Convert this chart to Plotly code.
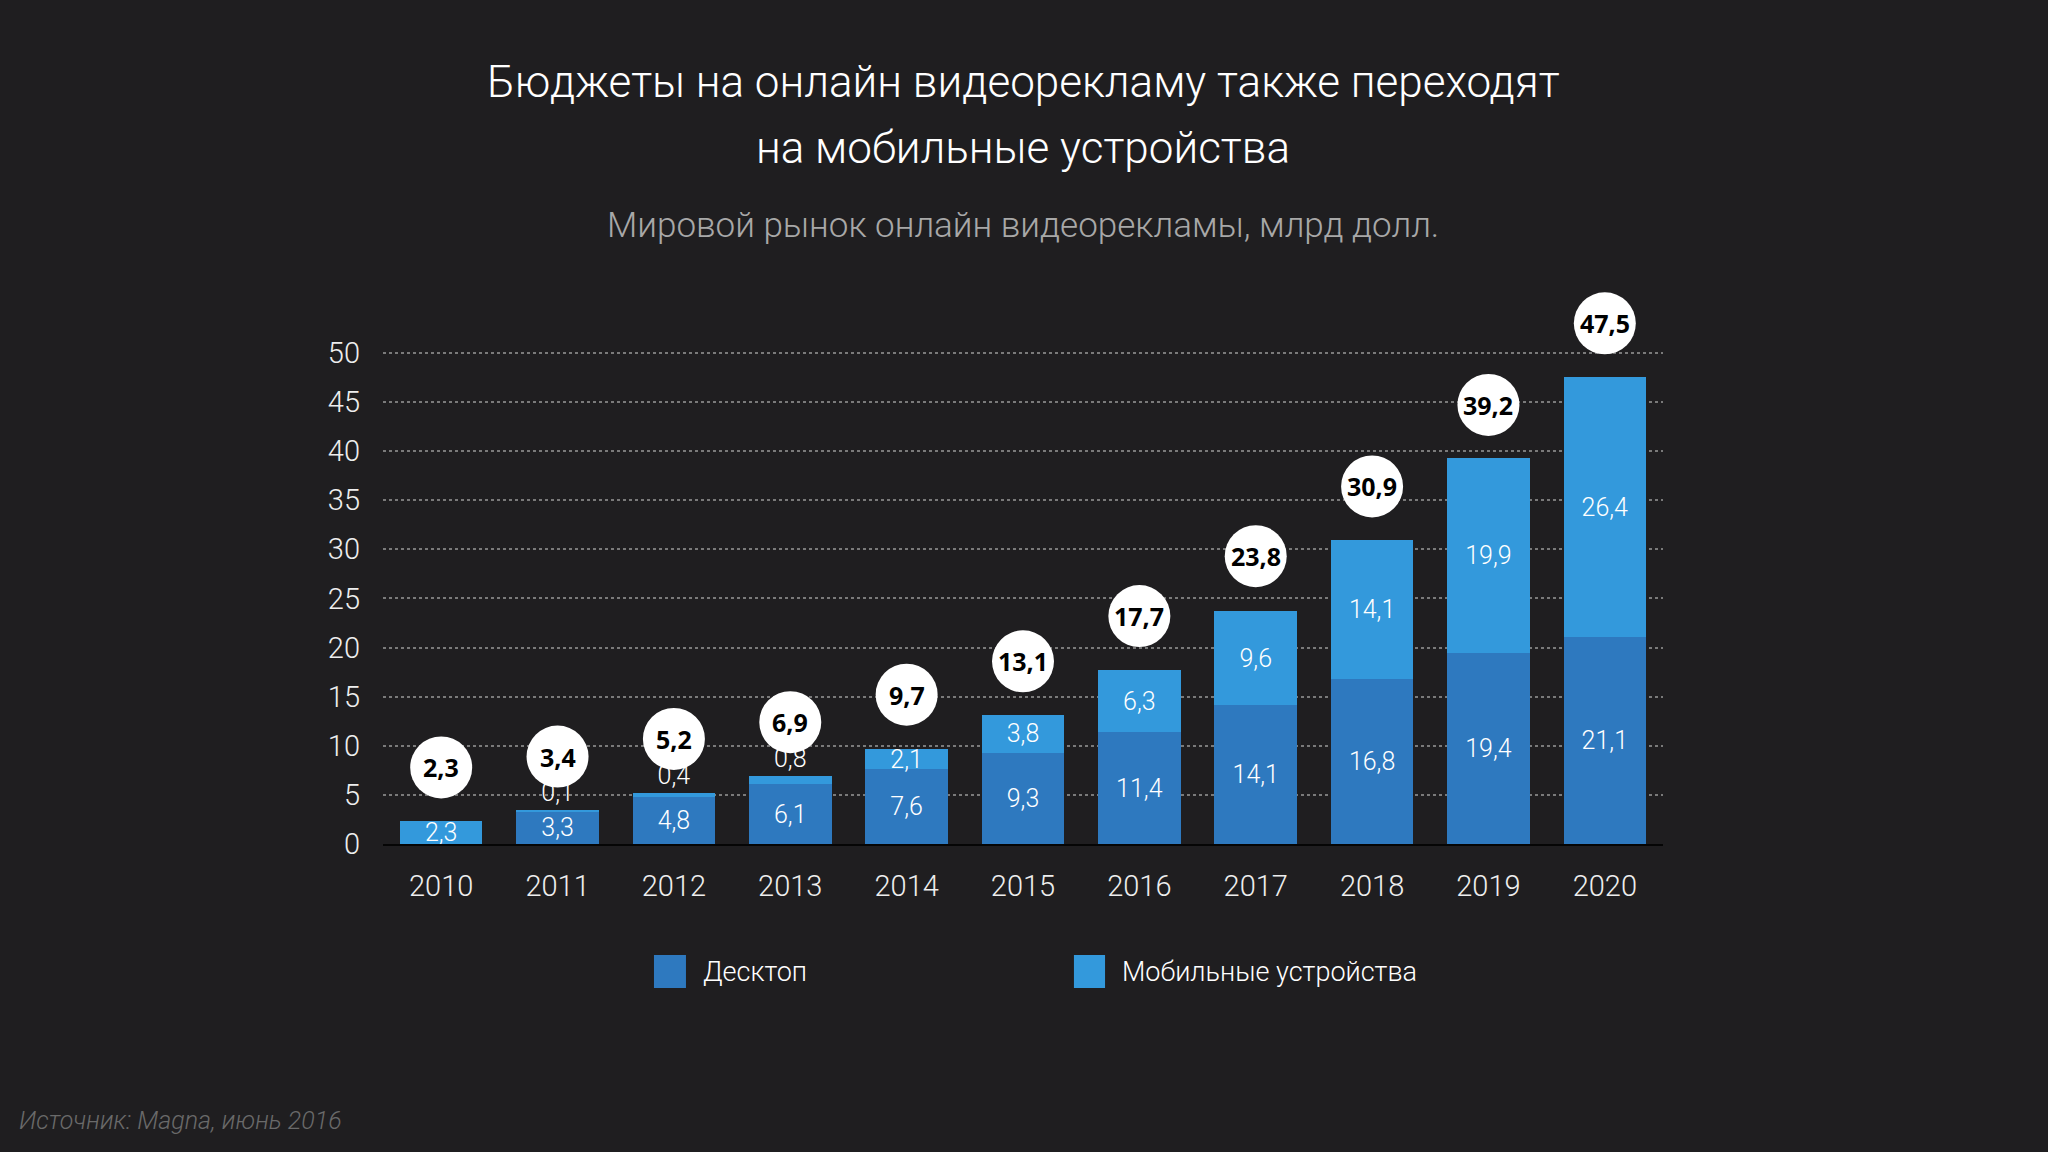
import plotly.graph_objects as go

years = ["2010", "2011", "2012", "2013", "2014", "2015", "2016", "2017", "2018", "2019", "2020"]
desktop = [2.3, 3.3, 4.8, 6.1, 7.6, 9.3, 11.4, 14.1, 16.8, 19.4, 21.1]
mobile = [0.0, 0.1, 0.4, 0.8, 2.1, 3.8, 6.3, 9.6, 14.1, 19.9, 26.4]
totals = [2.3, 3.4, 5.2, 6.9, 9.7, 13.1, 17.7, 23.8, 30.9, 39.2, 47.5]
y_ticks = [0, 5, 10, 15, 20, 25, 30, 35, 40, 45, 50]

title_lines = ["Бюджеты на онлайн видеорекламу также переходят", "на мобильные устройства"]
subtitle_text = "Мировой рынок онлайн видеорекламы, млрд долл."
source_text = "Источник: Magna, июнь 2016"
series_names = ["Десктоп", "Мобильные устройства"]

BG = "#1F1E20"
C_DESK = "#2E79BF"
C_MOB = "#3399DC"
FONT = "Roboto, Open Sans, sans-serif"


def fmt(v):
    return ("%g" % v).replace(".", ",")


desk_colors = [C_MOB if m == 0 else C_DESK for m in mobile]
mob_text = ["" if m == 0 else fmt(m) for m in mobile]
mob_pos = ["outside" if m < 1 else "inside" for m in mobile]

fig = go.Figure()
fig.add_trace(go.Bar(
    x=years, y=desktop, name=series_names[0],
    marker=dict(color=desk_colors, line=dict(width=0)),
    text=[fmt(v) for v in desktop], textposition="inside", textangle=0,
    insidetextanchor="middle", constraintext="none",
    textfont=dict(family=FONT, size=25, color="white", weight=300),
    showlegend=False, hoverinfo="skip",
))
fig.add_trace(go.Bar(
    x=years, y=mobile, name=series_names[1],
    marker=dict(color=C_MOB, line=dict(width=0)),
    text=mob_text, textposition=mob_pos, textangle=0,
    insidetextanchor="middle", constraintext="none",
    textfont=dict(family=FONT, size=25, color="white", weight=300),
    cliponaxis=False,
    showlegend=False, hoverinfo="skip",
))

shapes = []
annotations = []
for i, tot in enumerate(totals):
    shapes.append(dict(
        type="circle", xref="x", yref="y",
        xsizemode="pixel", ysizemode="pixel",
        xanchor=i, yanchor=tot,
        x0=-31, x1=31, y0=23, y1=85,
        fillcolor="white", line=dict(width=0), layer="above",
    ))
    annotations.append(dict(
        x=i, y=tot, xref="x", yref="y", yshift=54,
        text="<b>%s</b>" % fmt(tot), showarrow=False,
        xanchor="center", yanchor="middle",
        font=dict(family="Open Sans, sans-serif", size=25, color="black", weight=800),
    ))

# title lines
for txt, yy in zip(title_lines, [1.3607, 1.2429]):
    annotations.append(dict(
        x=0.5, y=yy, xref="paper", yref="paper", text=txt,
        showarrow=False, xanchor="center", yanchor="middle",
        font=dict(family=FONT, size=44, color="white", weight=300),
    ))
# subtitle
annotations.append(dict(
    x=0.5, y=1.1036, xref="paper", yref="paper", text=subtitle_text,
    showarrow=False, xanchor="center", yanchor="middle",
    font=dict(family=FONT, size=35, color="#A8A8A8", weight=300),
))
# source
annotations.append(dict(
    x=-0.286, y=-0.4946, xref="paper", yref="paper", text="<i>%s</i>" % source_text,
    showarrow=False, xanchor="left", yanchor="middle",
    font=dict(family=FONT, size=25, color="#6A6A6A", weight=300),
))

# legend (manual)
legend_items = [
    (series_names[0], C_DESK, 0.2117, 0.2367, 0.2484),
    (series_names[1], C_MOB, 0.5398, 0.5641, 0.5758),
]
for name, col, sx0, sx1, tx in legend_items:
    shapes.append(dict(
        type="rect", xref="paper", yref="paper",
        x0=sx0, x1=sx1, y0=-0.2571, y1=-0.1982,
        fillcolor=col, line=dict(width=0),
    ))
    annotations.append(dict(
        x=tx, y=-0.2286, xref="paper", yref="paper", text=name,
        showarrow=False, xanchor="left", yanchor="middle",
        font=dict(family=FONT, size=27, color="white", weight=300),
    ))

fig.update_layout(
    width=2048, height=1152,
    paper_bgcolor=BG, plot_bgcolor=BG,
    margin=dict(l=383, r=385, t=284, b=308),
    barmode="stack", bargap=0.29,
    xaxis=dict(
        type="category", range=[-0.5, 10.5], showgrid=False, zeroline=False,
        showline=True, linecolor="#050505", linewidth=2,
        ticks="", ticklabelstandoff=15,
        tickfont=dict(family=FONT, size=29, color="#EEEEEE", weight=300),
        fixedrange=True,
    ),
    yaxis=dict(
        range=[0, 57], tickvals=y_ticks, ticktext=[str(v) for v in y_ticks],
        showgrid=True, gridcolor="#7A7A7A", griddash="dot", gridwidth=1.5,
        zeroline=False, showline=False, ticks="", ticklabelstandoff=22,
        tickfont=dict(family=FONT, size=29, color="#EEEEEE", weight=300),
        fixedrange=True,
    ),
    shapes=shapes,
    annotations=annotations,
    showlegend=False,
)

fig.write_html(
    "out.html",
    config={"displayModeBar": False},
    post_script="document.body.style.margin='0';document.body.style.background='%s';" % BG,
)
